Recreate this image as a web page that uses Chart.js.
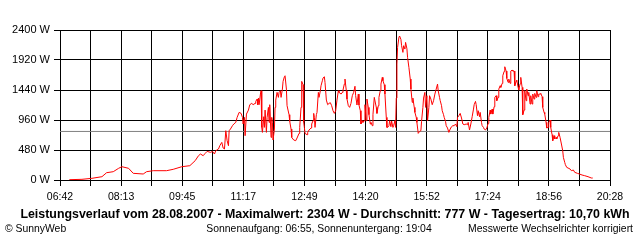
<!DOCTYPE html>
<html>
<head>
<meta charset="utf-8">
<script src="https://cdn.jsdelivr.net/npm/chart.js@4/dist/chart.umd.min.js"></script>
<style>
  html, body { margin: 0; padding: 0; background: #ffffff; }
  #wrap { width: 640px; height: 240px; position: relative; }
</style>
</head>
<body>
<div id="wrap"><canvas id="c" width="640" height="240"></canvas></div>
<script>
// Time of day in minutes since midnight
const minutes = [416,435,450,465,472,482,490,495,505,512,527,532,542,562,572,585,597,605,610,613,617,620,623,628,631,634,636,640,642,645,647,649,651,653,655,656,658,661,663,666,668,671,674,676,677,679,680,682,685,687,690,692,695,696,698,699,700,701,703,704,705,706,708,709,710,712,713,715,716,717,719,720,721,722,724,725,726,728,730,731,733,734,736,737,739,740,742,743,746,747,749,750,753,756,758,761,762,764,765,767,768,769,770,773,774,776,779,780,782,783,784,785,787,788,790,791,793,794,796,797,799,800,802,804,806,808,810,812,814,816,818,820,821,823,824,826,827,829,830,832,833,835,837,839,841,843,845,846,848,850,851,853,854,856,857,859,860,862,863,865,866,868,869,871,872,874,875,877,878,880,881,883,884,886,887,889,890,892,893,894,896,897,899,900,902,903,905,906,907,908,909,911,912,914,915,917,918,920,921,923,924,926,928,929,931,932,934,935,937,938,940,942,944,945,947,948,950,951,953,954,956,957,959,961,963,965,967,969,970,972,973,975,976,978,979,981,982,984,986,988,990,992,994,996,998,999,1001,1003,1005,1007,1009,1012,1014,1015,1017,1019,1021,1023,1024,1026,1027,1029,1030,1032,1033,1035,1036,1038,1039,1041,1043,1045,1046,1048,1049,1051,1052,1054,1055,1057,1058,1060,1061,1063,1064,1066,1067,1069,1070,1072,1073,1075,1076,1078,1079,1081,1082,1084,1085,1087,1088,1090,1091,1093,1094,1096,1097,1099,1100,1102,1103,1105,1106,1108,1109,1111,1112,1114,1115,1117,1118,1120,1121,1123,1124,1126,1127,1129,1130,1132,1133,1135,1136,1138,1139,1141,1142,1144,1145,1147,1148,1150,1151,1153,1155,1157,1158,1160,1161,1163,1165,1168,1170,1173,1175,1179,1182,1186,1190,1195,1200,1202];
// Power in W
const watts = [5,11,27,53,117,133,187,213,187,107,96,133,149,149,171,213,229,309,389,416,389,426,458,442,458,416,469,496,549,602,512,496,789,629,549,789,816,869,896,922,1002,1082,1066,1002,896,1002,709,1055,1119,1205,1226,1205,1226,1258,1295,1205,1311,1205,1375,1428,842,762,1013,842,1119,762,1002,1162,922,1205,682,1002,922,640,816,1162,1279,1402,1322,1402,1428,1322,1455,1578,1653,1668,1455,1189,1045,938,816,682,640,629,672,746,842,1162,1578,1525,922,842,746,725,762,800,832,896,949,1066,1002,842,1045,1082,1402,1322,1428,1508,1588,1631,1652,1562,1279,1205,1226,1237,1189,1109,1066,1109,1279,1428,1402,1386,1375,1402,1439,1535,1615,1428,1295,1189,1162,1226,1349,1402,1500,1350,1200,1375,1200,1109,896,949,922,949,1205,949,1295,1162,1045,896,922,869,1045,1322,1322,1162,1066,1189,1322,1428,1535,1642,1588,1525,1375,1002,842,842,869,949,853,944,842,869,949,842,1311,1855,2122,2282,2304,2250,2149,2042,2149,2095,2202,2100,1960,1800,1615,1455,1242,1311,1162,1082,1002,922,746,778,789,938,1162,1311,1402,1162,1349,949,1162,1349,1295,1205,1269,1375,1455,1535,1428,1322,1269,1189,1109,1045,1002,938,869,832,762,816,853,869,869,896,853,1002,1029,1066,992,896,885,896,885,922,800,896,1013,1135,1205,1258,1205,1029,1109,1013,1082,922,869,842,816,800,832,906,1002,1119,1055,1135,1055,1173,1322,1349,1269,1322,1455,1508,1482,1546,1668,1738,1812,1743,1626,1562,1615,1546,1743,1759,1743,1743,1508,1578,1599,1482,1439,1540,1642,1482,1045,1119,1428,1269,1455,1349,1402,1215,1349,1215,1375,1295,1386,1322,1428,1333,1375,1375,1386,1333,1162,1082,1055,922,832,842,922,960,842,725,629,709,656,682,656,709,762,682,576,469,362,282,245,202,192,176,149,160,123,107,96,80,69,53,32,32];
const average = 777;             // Durchschnitt in W
const xMin = 402;                // 06:42
const xMax = 1228;               // 20:28
const tickLabels = ['06:42','08:13','09:45','11:17','12:49','14:20','15:52','17:24','18:56','20:28'];
const yMax = 2400;
const yStep = 480;

const titleText = 'Leistungsverlauf vom 28.08.2007 - Maximalwert: 2304 W - Durchschnitt: 777 W - Tagesertrag: 10,70 kWh';
const footerLeft = '\u00A9 SunnyWeb';
const footerCenter = 'Sonnenaufgang: 06:55, Sonnenuntergang: 19:04';
const footerRight = 'Messwerte Wechselrichter korrigiert';

const powerPoints = minutes.map((m, i) => ({ x: m, y: watts[i] }));
const avgPoints = [{ x: xMin, y: average }, { x: xMax, y: average }];

const FONT = '"Liberation Sans", Arial, sans-serif';

const textPlugin = {
  id: 'textPlugin',
  afterDraw(chart) {
    const ctx = chart.ctx;
    ctx.save();
    ctx.fillStyle = '#000000';
    ctx.textBaseline = 'middle';
    ctx.font = 'bold 12.4px ' + FONT;
    ctx.textAlign = 'center';
    ctx.fillText(titleText, 325, 215);
    ctx.font = '10.4px ' + FONT;
    ctx.textAlign = 'left';
    ctx.fillText(footerLeft, 5, 229);
    ctx.textAlign = 'center';
    ctx.fillText(footerCenter, 319, 229);
    ctx.textAlign = 'right';
    ctx.fillText(footerRight, 633, 229);
    ctx.restore();
  }
};

new Chart(document.getElementById('c'), {
  type: 'line',
  data: {
    datasets: [
      {
        data: powerPoints,
        borderColor: '#ff0000',
        borderWidth: 1,
        pointRadius: 0,
        tension: 0,
        fill: false
      },
      {
        data: avgPoints,
        borderColor: '#808080',
        borderWidth: 1,
        pointRadius: 0,
        tension: 0,
        fill: false
      }
    ]
  },
  options: {
    responsive: false,
    animation: false,
    devicePixelRatio: 1,
    layout: { padding: { left: 0, right: 30, top: 30, bottom: 0 } },
    plugins: { legend: { display: false }, tooltip: { enabled: false }, title: { display: false } },
    scales: {
      x: {
        type: 'linear',
        min: xMin,
        max: xMax,
        afterBuildTicks(scale) {
          const n = (tickLabels.length - 1) * 2;
          const t = [];
          for (let i = 0; i <= n; i++) t.push({ value: xMin + i * (xMax - xMin) / n });
          scale.ticks = t;
        },
        afterFit(scale) { scale.height = 60; },
        ticks: {
          autoSkip: false,
          maxRotation: 0,
          minRotation: 0,
          padding: 5,
          color: '#000000',
          font: { family: FONT, size: 10.5 },
          callback(value, index) { return index % 2 === 0 ? tickLabels[index / 2] : ''; }
        },
        grid: { color: '#000000', lineWidth: 1, tickLength: 6, drawTicks: true },
        border: { display: true, color: '#000000', width: 1 }
      },
      y: {
        min: 0,
        max: yMax,
        afterFit(scale) { scale.width = 60; },
        ticks: {
          stepSize: yStep,
          padding: 4,
          color: '#000000',
          font: { family: FONT, size: 11 },
          callback(value) { return value + ' W'; }
        },
        grid: { color: '#000000', lineWidth: 1, tickLength: 6, drawTicks: true },
        border: { display: true, color: '#000000', width: 1 }
      }
    }
  },
  plugins: [textPlugin]
});
</script>
</body>
</html>
